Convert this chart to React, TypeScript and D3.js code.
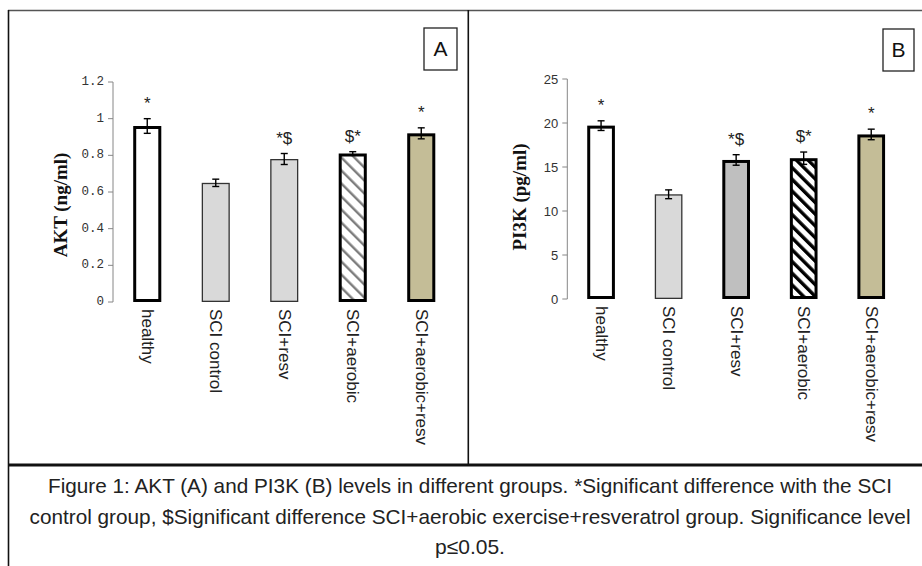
import React from 'react';
import * as d3 from 'd3';

// groups shared by both panels
const groups = ['healthy', 'SCI control', 'SCI+resv', 'SCI+aerobic', 'SCI+aerobic+resv'];

// panel A: AKT (ng/ml)
const aktMean = [0.96, 0.65, 0.78, 0.81, 0.92];
const aktErr = [0.04, 0.02, 0.03, 0.01, 0.03];
const aktSig = ['*', '', '*$', '$*', '*'];
const aktTicks = [0, 0.2, 0.4, 0.6, 0.8, 1, 1.2];

// panel B: PI3K (pg/ml)
const pi3kMean = [19.7, 11.9, 15.8, 16.0, 18.7];
const pi3kErr = [0.55, 0.5, 0.6, 0.7, 0.6];
const pi3kSig = ['*', '', '*$', '$*', '*'];
const pi3kTicks = [0, 5, 10, 15, 20, 25];

const captionLines = [
  'Figure 1: AKT (A) and PI3K (B) levels in different groups. *Significant difference with the SCI',
  'control group, $Significant difference SCI+aerobic exercise+resveratrol group. Significance level',
  'p\u22640.05.',
];

const W = 922;
const H = 566;

const SANS = "'Liberation Sans', Arial, sans-serif";
const NARROW = "'Liberation Sans Narrow', 'Liberation Sans', Arial, sans-serif";

type PanelProps = {
  means: number[];
  errs: number[];
  sig: string[];
  ticks: number[];
  max: number;
  left: number;
  right: number;
  top: number;
  bottom: number;
  fills: string[];
  strokeW: number[];
  title: string;
  titleX: number;
  titleY: number;
  tickFont: string;
  tickSize: number;
  letter: string;
  box: [number, number, number, number];
};

function Panel(p: PanelProps) {
  const x = d3.scaleBand<string>()
    .domain(groups)
    .range([p.left, p.right])
    .paddingInner(0.59)
    .paddingOuter(0.295);
  const y = d3.scaleLinear().domain([0, p.max]).range([p.bottom, p.top]);
  const bw = x.bandwidth();
  const [bx, by, bwid, bh] = p.box;

  return (
    <g>
      {/* y axis */}
      <line x1={p.left} x2={p.left} y1={y(0)} y2={y(p.max)} stroke="#868686" strokeWidth={1} />
      {p.ticks.map((t) => (
        <g key={t}>
          <line x1={p.left - 5} x2={p.left} y1={y(t)} y2={y(t)} stroke="#868686" strokeWidth={1} />
          <text
            x={p.left - 9}
            y={y(t)}
            textAnchor="end"
            dominantBaseline="central"
            fontFamily={p.tickFont}
            fontSize={p.tickSize}
            fill="#333"
          >
            {String(t)}
          </text>
        </g>
      ))}

      {/* bars */}
      {groups.map((g, i) => {
        const x0 = x(g) as number;
        const top = y(p.means[i]);
        const cx = x0 + bw / 2;
        const eHi = y(p.means[i] + p.errs[i]);
        const eLo = y(p.means[i] - p.errs[i]);
        const sw = p.strokeW[i];
        return (
          <g key={g}>
            <rect
              x={x0 + sw / 2}
              y={top + sw / 2}
              width={bw - sw}
              height={y(0) - top - sw}
              fill={p.fills[i]}
              stroke={sw > 2 ? '#000' : '#333'}
              strokeWidth={sw}
            />
            <line x1={cx} x2={cx} y1={eHi} y2={eLo} stroke="#000" strokeWidth={1.4} />
            <line x1={cx - 3.5} x2={cx + 3.5} y1={eHi} y2={eHi} stroke="#000" strokeWidth={1.4} />
            <line x1={cx - 3.5} x2={cx + 3.5} y1={eLo} y2={eLo} stroke="#000" strokeWidth={1.4} />
            {p.sig[i] && (
              <text
                x={cx}
                y={eHi - 10}
                textAnchor="middle"
                fontFamily={SANS}
                fontSize={17}
                fill="#222"
              >
                {p.sig[i]}
              </text>
            )}
            <text
              transform={`translate(${cx},${y(0) + 7}) rotate(90)`}
              dominantBaseline="central"
              fontFamily={SANS}
              fontSize={17}
              fill="#222"
            >
              {g}
            </text>
          </g>
        );
      })}

      {/* axis title */}
      <text
        transform={`translate(${p.titleX},${p.titleY}) rotate(-90)`}
        textAnchor="middle"
        fontFamily="'Liberation Serif', 'Times New Roman', serif"
        fontWeight="bold"
        fontSize={19}
        fill="#111"
      >
        {p.title}
      </text>

      {/* panel letter */}
      <rect x={bx} y={by} width={bwid} height={bh} fill="#fff" stroke="#222" strokeWidth={1.3} />
      <text
        x={bx + bwid / 2}
        y={by + bh / 2 + 7}
        textAnchor="middle"
        fontFamily={NARROW}
        fontSize={21}
        fill="#111"
      >
        {p.letter}
      </text>
    </g>
  );
}

export default function App() {
  return (
    <div style={{ position: 'absolute', left: 0, top: 0 }}>
      <svg width={W} height={H} style={{ display: 'block', background: '#fff' }}>
        <defs>
          <pattern id="hatchA" patternUnits="userSpaceOnUse" width={9.2} height={9.2} patternTransform="rotate(-45)">
            <rect width={9.2} height={9.2} fill="#fff" />
            <rect width={2.4} height={9.2} fill="#7f7f7f" />
          </pattern>
          <pattern id="hatchB" patternUnits="userSpaceOnUse" width={8.3} height={8.3} patternTransform="rotate(-45)">
            <rect width={8.3} height={8.3} fill="#fff" />
            <rect width={3.4} height={8.3} fill="#000" />
          </pattern>
        </defs>

        {/* frame */}
        <line x1={8} x2={W} y1={10.5} y2={10.5} stroke="#555" strokeWidth={1.6} />
        <line x1={8.5} x2={8.5} y1={10} y2={H} stroke="#111" strokeWidth={1.6} />
        <line x1={468.3} x2={468.3} y1={10} y2={465} stroke="#111" strokeWidth={1.6} />
        <line x1={8} x2={W} y1={465} y2={465} stroke="#111" strokeWidth={2.8} />

        <Panel
          means={aktMean}
          errs={aktErr}
          sig={aktSig}
          ticks={aktTicks}
          max={1.2}
          left={113}
          right={455.5}
          top={82}
          bottom={302}
          fills={['#fff', '#d9d9d9', '#d9d9d9', 'url(#hatchA)', '#c4bd97']}
          strokeW={[3, 1.3, 1.3, 3, 3]}
          title="AKT (ng/ml)"
          titleX={67}
          titleY={205}
          tickFont="'Liberation Mono', 'Courier New', monospace"
          tickSize={12.5}
          letter="A"
          box={[424, 28, 33, 42]}
        />
        <Panel
          means={pi3kMean}
          errs={pi3kErr}
          sig={pi3kSig}
          ticks={pi3kTicks}
          max={25}
          left={567.3}
          right={905}
          top={79}
          bottom={299}
          fills={['#fff', '#d9d9d9', '#bfbfbf', 'url(#hatchB)', '#c4bd97']}
          strokeW={[3, 1.3, 3, 3, 3]}
          title="PI3K (pg/ml)"
          titleX={526}
          titleY={197}
          tickFont={NARROW}
          tickSize={13}
          letter="B"
          box={[883, 29, 31, 42]}
        />

        {/* caption */}
        {captionLines.map((line, i) => (
          <text
            key={i}
            x={470}
            y={493 + i * 30.5}
            textAnchor="middle"
            fontFamily={NARROW}
            fontSize={21}
            fill="#222"
            textLength={i === 0 ? 844 : i === 1 ? 881 : undefined}
            lengthAdjust="spacingAndGlyphs"
          >
            {line}
          </text>
        ))}
      </svg>
    </div>
  );
}
